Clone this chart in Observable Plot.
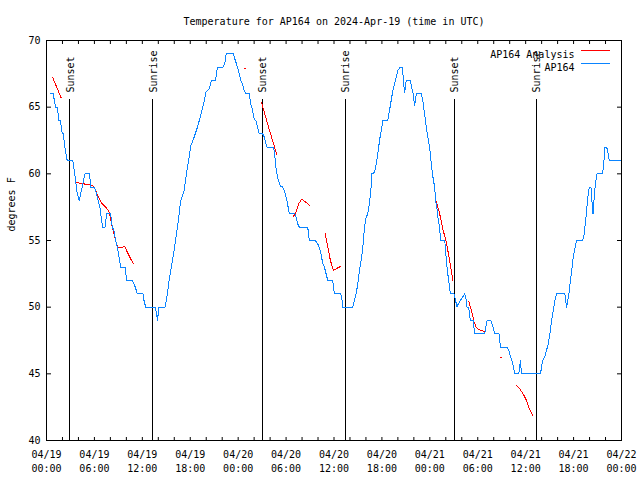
<!DOCTYPE html>
<html>
<head>
<meta charset="utf-8">
<script src="https://cdn.jsdelivr.net/npm/d3@7"></script>
<script src="https://cdn.jsdelivr.net/npm/@observablehq/plot@0.6"></script>
<style>
  html, body { margin: 0; padding: 0; background: #fff; }
</style>
</head>
<body>
<div id="chart"></div>
<script>
// ---- Data (hours since 2024-04-19 00:00 UTC) ----
const title = "Temperature for AP164 on 2024-Apr-19 (time in UTC)";
const yLabel = "degrees F";
const seriesNames = ["AP164 Analysis", "AP164"];
const seriesColors = ["#ff0000", "#0a84ff"];

const blueHours = [0.50,0.84,1.13,1.35,1.55,1.75,1.97,2.10,2.30,2.59,3.30,3.64,3.85,4.10,4.27,4.47,4.68,4.81,5.40,5.52,6.02,6.15,6.36,6.69,6.90,7.03,7.32,7.53,8.03,8.24,8.45,8.66,8.87,9.08,9.28,9.83,10.04,10.75,10.96,11.17,11.38,12.09,12.21,12.42,13.59,13.76,13.89,14.09,14.85,15.14,15.35,15.98,16.40,16.81,17.23,17.65,17.86,18.07,18.49,18.90,19.32,19.74,19.95,20.37,20.66,21.16,21.41,22.08,22.33,22.50,23.38,23.59,23.92,24.13,24.34,24.55,24.76,24.97,25.39,25.60,25.81,26.01,26.22,26.43,26.64,27.06,27.27,27.60,28.44,28.52,28.73,28.94,29.28,29.57,29.78,30.07,30.41,31.12,31.24,31.45,31.66,32.71,32.91,33.67,33.96,34.17,34.38,34.59,34.80,35.22,35.84,36.05,36.80,36.97,37.10,38.35,38.56,38.77,38.98,39.19,39.40,39.61,39.82,40.03,40.23,40.44,40.65,40.74,41.07,41.28,41.49,41.70,41.91,42.12,42.74,42.95,43.16,43.37,43.58,43.79,44.00,44.29,44.54,44.63,44.83,44.92,45.04,45.59,45.67,45.88,46.09,46.30,46.93,47.14,47.34,47.55,47.76,47.97,48.18,48.39,48.60,48.73,48.87,49.01,49.23,49.35,49.85,49.94,50.06,50.27,50.48,50.56,51.02,51.19,51.40,51.53,51.94,52.36,52.57,52.66,52.86,53.07,53.41,53.62,54.87,55.00,55.17,55.62,55.92,56.13,56.67,56.84,57.67,57.88,58.13,58.34,58.64,59.14,59.35,59.47,61.86,62.11,62.40,62.61,62.82,63.03,63.24,63.45,63.65,63.86,64.91,65.12,65.41,65.53,65.66,65.82,65.95,66.16,66.37,67.13,67.29,67.42,67.55,67.67,67.84,67.97,68.17,68.26,68.34,68.43,68.55,68.68,68.80,68.93,69.64,69.77,69.93,70.14,70.26,70.47,72.00];
const blueTemps = [66,66,65,65,64,64,63,63,62,61,61,59.5,58.5,58,58.5,59,59.6,60,60,59,59,58.75,58.25,57.5,56.5,56,56,57,57,56,55.75,55,54.5,53.75,53,53,52,52,51.75,51.4,51,51,50.5,50,50,49.6,49,50,50,51,52,54.25,56,58,58.75,60.5,61.25,62.1,62.75,63.5,64.4,65.4,66.1,66.4,67,67,68,68,68.3,69,69,68.6,68,67.5,67,66.75,66.25,66,66,65.2,64.75,64.1,64,63.5,63,63,62.75,62,62,61.7,60.5,59.7,59.1,59,58.75,58.1,57,57,56.75,56.25,56,56,55,55,54.75,54.45,54,53.25,53,52,52,51,51,50.75,50,50,50.5,51,51.75,52.75,53.5,54.5,56,56.75,57,57.75,59,60,60.1,60.75,61.5,62.5,63.25,64,64,64.75,65.5,66.25,66.75,67.25,67.75,68,68,67.5,66.1,66.4,67,67,66.6,66.1,65.1,66,66,65.4,64.5,63.5,62.75,62,60.75,59.75,59,58,57.5,56.75,55.9,55,55,54.6,53.5,52.4,51.5,51,51,50.6,50,50.2,50.6,51,50.5,50,50,49,49,48,48,48.5,49,49,48.5,48,48,47,47,46.75,46.25,45.9,45,45,46,45,45,46,46.25,46.75,47.25,48,49,49.75,50.5,51,51,50,51,51.6,52.25,53,53.75,54.4,55,55,55.35,56,56.75,57.5,58.5,59,59,58.5,57.5,57,58,58.9,59.5,60,60,60.75,62,62,61.75,61,61];

const redSegments = ["A","A","B","B","B","B","B","B","B","B","B","B","B","B","B","B","B","B","B","B","B","B","B","B","B","P","P","C","C","C","D","D","D","D","D","D","D","E","E","E","E","E","E","F","F","F","F","F","F","G","G","G","G","G","G","Q","Q","H","H","H","H","H","H","H"];
const redHours = [0.79,1.84,3.72,4.27,4.68,5.10,5.52,5.94,6.15,6.36,6.69,6.98,7.40,7.74,7.90,8.03,8.24,8.45,8.66,8.87,9.20,9.79,10.12,10.54,10.87,24.84,24.93,26.93,27.68,28.86,30.91,31.24,31.57,31.95,32.29,32.62,32.96,34.88,35.22,35.55,35.93,36.34,36.80,48.81,49.23,49.65,50.06,50.48,50.90,52.87,53.20,53.54,53.83,54.25,54.79,56.84,56.93,58.85,59.26,59.68,60.10,60.39,60.73,60.94];
const redTemps = [67.2,65.7,59.33,59.3,59.25,59.18,59.18,59.05,58.8,58.43,58.05,57.75,57.5,57.25,57,56.63,56,55.5,55,54.55,54.45,54.55,54.13,53.63,53.25,67.9,67.9,65.33,63.75,61.4,56.8,57.1,57.75,58.1,57.95,57.8,57.6,55.55,54.5,53.5,52.75,52.9,53.05,57.95,57,55.8,54.9,53.5,52.0,50.43,49.75,48.9,48.45,48.3,48.18,46.2,46.2,44.13,43.88,43.5,43.0,42.5,42.05,41.83];

const sunHours = [2.92, 13.32, 27.0, 37.38, 51.05, 61.3];
const sunNames = ["Sunset", "Sunrise", "Sunset", "Sunrise", "Sunset", "Sunrise"];

const yTicks = [40, 45, 50, 55, 60, 65, 70];
const xStartUTC = Date.UTC(2024, 3, 19);
const xEndUTC = Date.UTC(2024, 3, 22);

// ---- Build tables ----
const toDate = h => new Date(xStartUTC + h * 3600e3);
const blue = blueHours.map((h, i) => ({date: toDate(h), temp: blueTemps[i]}));
const red = redHours.map((h, i) => ({date: toDate(h), temp: redTemps[i], seg: redSegments[i]}));
const sun = sunHours.map((h, i) => ({date: toDate(h), name: sunNames[i]}));
const majorX = d3.utcHour.every(6).range(new Date(xStartUTC), new Date(xEndUTC + 1));
const minorX = d3.utcHour.every(2).range(new Date(xStartUTC), new Date(xEndUTC + 1));
const fmt = d3.utcFormat("%m/%d\n%H:%M");
const blank = () => "";

function legend(index, scales, values, dimensions) {
  const g = d3.create("svg:g");
  const x2 = dimensions.width - dimensions.marginRight - 11;
  const x1 = x2 - 29;
  seriesColors.forEach((c, i) => {
    g.append("line")
      .attr("x1", x1).attr("x2", x2)
      .attr("y1", dimensions.marginTop + 10.5 + i * 13)
      .attr("y2", dimensions.marginTop + 10.5 + i * 13)
      .attr("stroke", c).attr("stroke-width", 1)
      .attr("shape-rendering", "crispEdges");
  });
  return g.node();
}

const chart = Plot.plot({
  width: 640,
  height: 480,
  marginTop: 40,
  marginBottom: 40,
  marginLeft: 46,
  marginRight: 19,
  style: {fontFamily: "'DejaVu Sans Mono', monospace", fontSize: "10px", background: "#fff", color: "#000"},
  x: {type: "utc", domain: [new Date(xStartUTC), new Date(xEndUTC)]},
  y: {domain: [40, 70]},
  marks: [
    // sun rise/set markers
    Plot.ruleX(sun, {x: "date", stroke: "#000", strokeWidth: 1, insetTop: 59, shapeRendering: "crispEdges"}),
    Plot.text(sun, {x: "date", text: "name", frameAnchor: "top", dy: 52, dx: 1, rotate: -90, textAnchor: "start", lineAnchor: "middle", fill: "#000"}),
    // data
    Plot.line(red, {x: "date", y: "temp", z: "seg", stroke: seriesColors[0], strokeWidth: 1, shapeRendering: "crispEdges"}),
    Plot.line(blue, {x: "date", y: "temp", stroke: seriesColors[1], strokeWidth: 1, shapeRendering: "crispEdges"}),
    // frame
    Plot.frame({stroke: "#000", strokeWidth: 1, shapeRendering: "crispEdges"}),
    // y axis labels (left) and inward ticks on both sides
    Plot.axisY({anchor: "left", ticks: yTicks, tickSize: 0, tickPadding: 6, label: null, tickFormat: d => String(d)}),
    Plot.axisY({anchor: "right", frameAnchor: "left", ticks: yTicks, tickSize: 4, tickFormat: blank, label: null}),
    Plot.axisY({anchor: "left", frameAnchor: "right", ticks: yTicks, tickSize: 4, tickFormat: blank, label: null}),
    // x axis labels and inward ticks
    Plot.axisX({anchor: "bottom", ticks: majorX, tickSize: 0, tickPadding: 8, tickFormat: fmt, label: null, lineHeight: 1.35}),
    Plot.axisX({anchor: "top", frameAnchor: "bottom", ticks: minorX, tickSize: 4, tickFormat: blank, label: null}),
    Plot.axisX({anchor: "bottom", frameAnchor: "top", ticks: minorX, tickSize: 4, tickFormat: blank, label: null}),
    // title and y label
    Plot.text([title], {frameAnchor: "top", dy: -23, text: d => d, fill: "#000"}),
    Plot.text([yLabel], {frameAnchor: "left", dx: -35, dy: -9, rotate: -90, text: d => d, fill: "#000"}),
    // legend
    Plot.text(seriesNames, {frameAnchor: "top-right", dx: -47, text: d => d, textAnchor: "end", fill: "#000", filter: (d, i) => i === 0, dy: 10}),
    Plot.text(seriesNames, {frameAnchor: "top-right", dx: -47, text: d => d, textAnchor: "end", fill: "#000", filter: (d, i) => i === 1, dy: 23}),
    legend
  ]
});
document.getElementById("chart").appendChild(chart);
</script>
</body>
</html>
